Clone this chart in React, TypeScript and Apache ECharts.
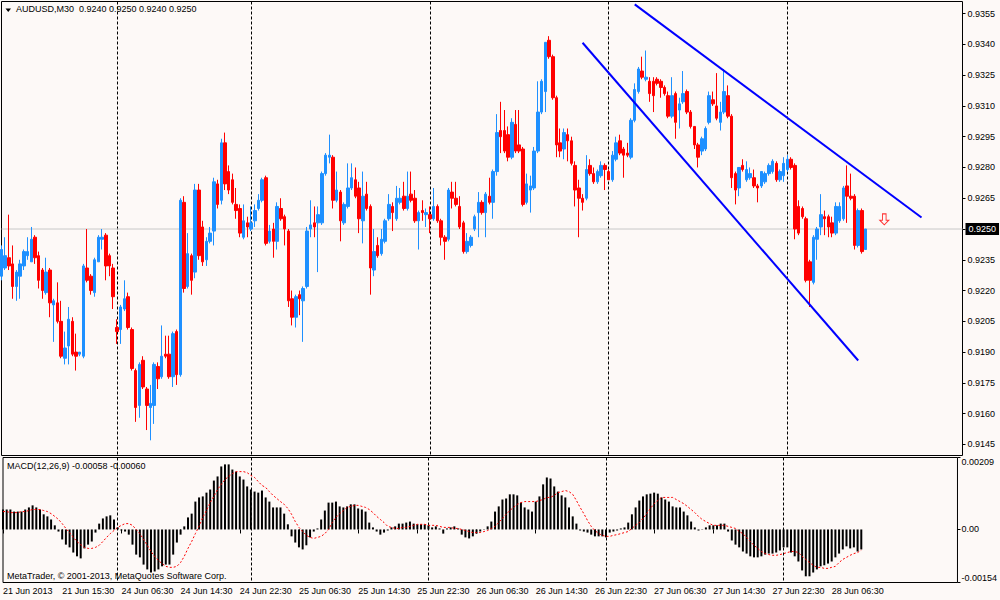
import React, { useEffect, useRef } from "react";
import * as echarts from "echarts";

// ---- axis / label data ----
const timeLabels = [
  "21 Jun 2013", "21 Jun 15:30", "24 Jun 06:30", "24 Jun 14:30", "24 Jun 22:30",
  "25 Jun 06:30", "25 Jun 14:30", "25 Jun 22:30", "26 Jun 06:30", "26 Jun 14:30",
  "26 Jun 22:30", "27 Jun 06:30", "27 Jun 14:30", "27 Jun 22:30", "28 Jun 06:30",
];
const labelStep = 16; // one time label every 16 bars (8 hours of M30)
const slotCount = 259; // bar slots across the chart, incl. empty right margin
const daySeparators = [31, 67, 115, 163, 211];
const priceTicks = [
  0.9145, 0.916, 0.9175, 0.919, 0.9205, 0.922, 0.9235, 0.925, 0.9265, 0.928,
  0.9295, 0.931, 0.9325, 0.934, 0.9355,
];
const macdTicks = [-0.00154, 0, 0.00209];
const bidPrice = 0.925;

// ---- prices, in units of 0.0001 ----
const opens = [
  9227,9231,9236,9233,9222,9227,9232,9237,9234,9246,
  9237,9230,9219,9230,9213,9214,9205,9187,9193,9205,
  9190,9189,9188,9231,9227,9219,9234,9245,9247,9237,
  9231,9202,9201,9211,9217,9201,9181,9164,9186,9172,
  9163,9164,9183,9178,9189,9189,9178,9200,9179,9263,
  9222,9237,9229,9269,9251,9235,9244,9249,9272,9264,
  9292,9278,9274,9262,9260,9246,9253,9250,9254,9260,
  9264,9275,9244,9250,9244,9260,9256,9249,9216,9207,
  9218,9215,9222,9250,9253,9253,9253,9277,9285,9285,
  9264,9268,9253,9261,9270,9274,9270,9254,9267,9261,
  9230,9242,9238,9244,9255,9261,9255,9263,9266,9260,
  9267,9265,9254,9259,9257,9257,9255,9261,9254,9246,
  9245,9268,9265,9261,9253,9239,9242,9250,9258,9263,
  9258,9266,9263,9278,9298,9298,9296,9285,9301,9291,
  9289,9263,9269,9270,9288,9307,9317,9342,9334,9314,
  9292,9289,9296,9293,9281,9270,9265,9265,9281,9277,
  9273,9276,9281,9278,9274,9284,9293,9289,9287,9285,
  9303,9317,9327,9323,9322,9322,9323,9322,9319,9315,
  9305,9316,9308,9312,9317,9307,9300,9291,9288,9289,
  9302,9313,9310,9302,9307,9315,9305,9277,9270,9281,
  9274,9275,9275,9271,9271,9273,9277,9278,9282,9274,
  9276,9279,9284,9281,9261,9260,9255,9234,9224,9245,
  9251,9256,9256,9253,9248,9254,9255,9271,9266,9266,
  9242,9259,9240,
];
const highs = [
  9242,9246,9257,9242,9230,9235,9240,9246,9251,9247,
  9239,9231,9236,9231,9216,9224,9215,9200,9212,9207,
  9199,9190,9233,9250,9228,9236,9247,9250,9248,9238,
  9233,9206,9213,9225,9219,9202,9182,9185,9188,9173,
  9174,9185,9185,9203,9198,9198,9200,9201,9265,9266,
  9248,9238,9272,9272,9254,9246,9251,9275,9274,9294,
  9297,9281,9277,9270,9262,9262,9256,9261,9262,9267,
  9275,9276,9252,9253,9263,9265,9257,9250,9220,9218,
  9220,9222,9251,9264,9261,9261,9278,9287,9296,9286,
  9278,9269,9263,9282,9282,9280,9273,9278,9273,9262,
  9250,9246,9250,9255,9267,9263,9271,9270,9273,9278,
  9278,9269,9259,9264,9260,9261,9270,9262,9255,9247,
  9270,9273,9273,9266,9254,9248,9247,9257,9268,9264,
  9268,9275,9279,9306,9312,9308,9300,9304,9308,9308,
  9290,9277,9276,9290,9322,9323,9341,9344,9335,9315,
  9299,9299,9299,9295,9283,9274,9267,9286,9284,9280,
  9279,9283,9282,9279,9288,9295,9296,9290,9292,9304,
  9321,9329,9334,9337,9324,9324,9324,9323,9320,9317,
  9324,9317,9314,9327,9318,9308,9300,9292,9295,9300,
  9317,9317,9326,9312,9328,9320,9306,9278,9280,9284,
  9283,9280,9279,9272,9278,9278,9282,9284,9283,9279,
  9285,9286,9285,9282,9264,9261,9256,9235,9247,9251,
  9267,9259,9257,9256,9263,9263,9271,9281,9277,9267,
  9260,9260,9250,
];
const lows = [
  9225,9230,9230,9216,9215,9216,9230,9235,9234,9233,
  9221,9216,9218,9207,9195,9204,9187,9184,9184,9188,
  9181,9188,9187,9224,9218,9217,9234,9240,9225,9227,
  9211,9194,9194,9210,9201,9181,9156,9158,9172,9152,
  9147,9155,9172,9177,9187,9177,9173,9174,9178,9219,
  9221,9218,9226,9235,9232,9232,9243,9242,9260,9262,
  9269,9267,9262,9255,9246,9245,9246,9249,9251,9259,
  9263,9242,9243,9236,9240,9254,9242,9212,9203,9202,
  9208,9195,9221,9246,9246,9229,9252,9276,9282,9260,
  9263,9244,9252,9260,9269,9265,9248,9243,9259,9218,
  9227,9236,9237,9243,9254,9249,9254,9262,9259,9259,
  9263,9253,9240,9254,9251,9248,9254,9253,9242,9235,
  9244,9260,9261,9250,9238,9238,9241,9249,9246,9257,
  9246,9262,9255,9276,9287,9287,9283,9284,9287,9287,
  9261,9262,9258,9269,9287,9306,9307,9333,9313,9285,
  9285,9284,9283,9281,9261,9246,9259,9264,9276,9272,
  9272,9275,9269,9274,9273,9283,9286,9275,9285,9284,
  9302,9316,9323,9322,9312,9307,9320,9314,9315,9304,
  9304,9294,9299,9311,9306,9299,9289,9280,9286,9288,
  9301,9310,9303,9298,9306,9304,9270,9262,9266,9278,
  9273,9274,9270,9263,9270,9272,9276,9277,9273,9273,
  9273,9278,9279,9245,9247,9255,9224,9212,9223,9235,
  9247,9247,9246,9246,9247,9253,9254,9253,9264,9240,
  9241,9238,9240,
];
const closes = [
  9240,9237,9232,9222,9229,9233,9239,9239,9245,9236,
  9225,9220,9229,9214,9215,9205,9188,9192,9206,9189,
  9188,9190,9232,9225,9220,9235,9246,9246,9232,9232,
  9217,9200,9212,9216,9202,9182,9163,9184,9173,9164,
  9165,9184,9177,9188,9188,9178,9199,9179,9264,9221,
  9238,9225,9269,9237,9234,9244,9248,9273,9262,9292,
  9272,9269,9263,9259,9248,9254,9251,9253,9259,9264,
  9274,9243,9249,9244,9261,9255,9250,9215,9207,9217,
  9216,9221,9249,9252,9251,9257,9277,9286,9286,9264,
  9269,9254,9262,9270,9275,9266,9255,9266,9260,9231,
  9239,9237,9245,9254,9262,9258,9265,9265,9260,9266,
  9264,9254,9258,9258,9258,9255,9261,9254,9246,9244,
  9269,9265,9262,9251,9239,9244,9246,9256,9263,9258,
  9267,9263,9278,9297,9295,9288,9285,9302,9288,9288,
  9262,9272,9271,9288,9307,9322,9341,9334,9314,9291,
  9288,9297,9293,9282,9269,9265,9263,9279,9277,9273,
  9278,9281,9279,9274,9286,9292,9287,9286,9286,9303,
  9318,9328,9324,9324,9316,9315,9321,9319,9316,9305,
  9315,9302,9311,9316,9307,9300,9291,9285,9294,9299,
  9315,9311,9304,9307,9317,9305,9275,9269,9280,9279,
  9279,9277,9271,9270,9278,9277,9281,9283,9274,9278,
  9282,9284,9280,9250,9248,9256,9225,9225,9246,9250,
  9257,9255,9251,9248,9261,9261,9270,9266,9265,9242,
  9259,9239,9250,
];

// ---- MACD(12,26,9), in units of 0.00001 ----
const macdMain = [
  58,58,58,52,52,52,58,64,70,64,
  58,44,38,29,12,-6,-29,-44,-52,-67,
  -78,-84,-55,-44,-35,-9,17,32,38,41,
  29,6,-3,-6,-15,-44,-73,-81,-102,-116,
  -125,-122,-116,-107,-102,-102,-73,-38,-15,9,
  35,46,81,93,96,107,116,142,154,183,
  189,189,174,168,154,145,125,116,110,107,
  113,93,81,64,64,64,46,15,-20,-38,
  -52,-58,-46,-23,-6,3,29,55,78,78,
  81,67,64,67,73,73,61,58,52,20,
  6,-6,-15,-9,-3,6,9,17,17,20,
  23,17,15,15,15,12,6,9,3,-12,
  3,6,9,3,-15,-23,-26,-20,-12,-6,
  1,9,23,52,67,87,90,102,102,99,
  78,64,58,52,81,96,131,151,148,125,
  110,99,93,64,38,17,-3,-6,-9,-15,
  -20,-20,-20,-23,-9,-6,-3,3,6,20,
  44,64,84,96,102,104,107,104,93,87,
  81,67,64,64,52,41,23,6,-3,1,
  6,12,12,12,17,17,-6,-32,-44,-52,
  -64,-70,-78,-81,-81,-78,-73,-70,-70,-67,
  -61,-52,-52,-67,-78,-93,-119,-136,-136,-125,
  -116,-107,-104,-99,-93,-81,-70,-58,-49,-55,
  -52,-64,-58,
];
const macdSignal = [
  52,52,49,49,49,52,52,55,58,58,
  58,55,52,46,38,29,17,3,-9,-23,
  -35,-44,-52,-55,-55,-52,-46,-35,-23,-12,
  -3,6,12,17,17,12,0,-12,-29,-46,
  -64,-78,-90,-99,-107,-110,-110,-107,-96,-78,
  -55,-35,-12,9,35,55,78,96,116,131,
  145,154,162,168,168,168,165,157,151,139,
  128,122,110,99,90,81,73,61,44,23,
  6,-6,-17,-23,-26,-23,-20,-12,0,20,
  35,46,55,64,67,70,70,67,64,58,
  49,38,29,20,9,6,3,3,6,6,
  9,12,15,15,15,12,12,12,9,6,
  6,6,3,3,0,-3,-6,-9,-9,-9,
  -6,-3,3,9,20,32,44,55,64,73,
  78,81,81,81,81,84,87,93,93,99,
  107,110,113,110,102,84,64,46,26,9,
  -3,-12,-17,-20,-20,-17,-15,-12,-9,-6,
  3,12,20,32,46,61,75,84,93,93,
  93,93,87,81,75,67,58,49,38,29,
  23,17,12,12,12,12,9,6,3,-6,
  -12,-23,-35,-46,-55,-64,-70,-73,-75,-75,
  -73,-70,-67,-64,-64,-67,-78,-87,-96,-104,
  -110,-110,-113,-113,-110,-107,-96,-87,-81,-75,
  -70,-67,-60,
];

// ---- drawn objects: [bar index, price] ----
const trendUpper = [[170, 0.93595], [247, 0.92556]];
const trendLower = [[156, 0.93408], [230, 0.91859]];
const arrowMark = [[237, 0.92547]];

const FONT = '"Liberation Sans", Arial, sans-serif';
const BG = "#fdf9f7";

export default function App() {
  const ref = useRef<HTMLDivElement>(null);

  useEffect(() => {
    if (!ref.current) return;
    const chart = echarts.init(ref.current, null, { renderer: "svg" });

    const categories = Array.from({ length: slotCount }, (_, i) =>
      i % labelStep === 0 && i / labelStep < timeLabels.length ? timeLabels[i / labelStep] : ""
    );
    const isLabel = (i: number) => i % labelStep === 0 && i / labelStep < timeLabels.length;
    const isSep = (i: number) => daySeparators.includes(i);

    const candles = opens.map((o, i) => [o / 1e4, closes[i] / 1e4, lows[i] / 1e4, highs[i] / 1e4]);
    const last = opens.length - 1;
    const f4 = (v: number) => (v / 1e4).toFixed(4);
    const headline = `AUDUSD,M30  ${f4(opens[last])} ${f4(highs[last])} ${f4(lows[last])} ${f4(closes[last])}`;
    const macdLine = `MACD(12,26,9) ${(macdMain[last] / 1e5).toFixed(5)} ${(macdSignal[last] / 1e5).toFixed(5)}`;

    const sepLine = { show: true, interval: (i: number) => isSep(i), lineStyle: { color: "#000", type: [3, 2], width: 1 } };
    const txt = { fontSize: 9, fontWeight: "normal", color: "#000", fontFamily: FONT };

    const option: any = {
      animation: false,
      backgroundColor: BG,
      textStyle: { fontFamily: FONT },
      title: [
        { text: headline, left: 16, top: 4, padding: 0, textStyle: txt },
        { text: macdLine, left: 7, top: 461, padding: 0, textStyle: txt },
        { text: "MetaTrader, © 2001-2013, MetaQuotes Software Corp.", left: 7, top: 571, padding: 0, textStyle: txt },
      ],
      graphic: [
        { type: "polygon", shape: { points: [[5.5, 8.5], [11, 8.5], [8.25, 12]] }, style: { fill: "#000" } },
      ],
      grid: [
        { left: 1.5, top: 1.5, width: 961, height: 454, show: true, borderColor: "#000", borderWidth: 1, backgroundColor: "transparent" },
        { left: 1.5, top: 457.5, width: 961, height: 125, show: true, borderColor: "#000", borderWidth: 1, backgroundColor: "transparent" },
      ],
      xAxis: [
        {
          type: "category", gridIndex: 0, data: categories, boundaryGap: false,
          axisLine: { show: false }, axisTick: { show: false }, axisLabel: { show: false },
          splitLine: sepLine,
        },
        {
          type: "category", gridIndex: 1, data: categories, boundaryGap: false,
          axisLine: { show: false },
          axisTick: { show: true, interval: (i: number) => isLabel(i), length: 4, lineStyle: { color: "#000" } },
          axisLabel: { show: true, interval: (i: number) => isLabel(i), align: "left", margin: 4, fontSize: 9, color: "#000", fontFamily: FONT },
          splitLine: sepLine,
        },
      ],
      yAxis: [
        {
          type: "value", gridIndex: 0, position: "right", min: 0.91396, max: 0.93609,
          splitLine: { show: false }, axisLine: { show: false },
          axisTick: { show: true, length: 3, customValues: priceTicks, lineStyle: { color: "#000" } },
          axisLabel: {
            customValues: priceTicks.filter((v) => v !== bidPrice),
            formatter: (v: number) => v.toFixed(4), fontSize: 9, color: "#000", margin: 5, fontFamily: FONT,
          },
        },
        {
          type: "value", gridIndex: 1, position: "right", min: macdTicks[0], max: macdTicks[2],
          splitLine: { show: false }, axisLine: { show: false },
          axisTick: { show: true, length: 3, customValues: macdTicks, lineStyle: { color: "#000" } },
          axisLabel: {
            customValues: macdTicks,
            formatter: (v: number) => (v === 0 ? "0.00" : v.toFixed(5)),
            fontSize: 9, color: "#000", margin: 4, fontFamily: FONT,
            verticalAlignMaxLabel: "top", verticalAlignMinLabel: "bottom",
          },
        },
      ],
      series: [
        {
          // bid price line across the chart (drawn behind candles) with its price box
          type: "line", xAxisIndex: 0, yAxisIndex: 0, z: 1,
          data: [[0, bidPrice], [slotCount - 1, bidPrice]], symbol: "none", silent: true,
          lineStyle: { color: "#c8c8c8", width: 1 },
          endLabel: {
            show: true, distance: 3, formatter: () => bidPrice.toFixed(4),
            backgroundColor: "#000", color: "#fff", padding: [2, 3, 1, 3], fontSize: 9, fontFamily: FONT,
          },
        },
        {
          type: "candlestick", xAxisIndex: 0, yAxisIndex: 0, data: candles, barWidth: 3, z: 2,
          itemStyle: { color: "#1e90ff", color0: "#ff0000", borderColor: "#1e90ff", borderColor0: "#ff0000", borderWidth: 1 },
        },
        {
          type: "line", xAxisIndex: 0, yAxisIndex: 0, data: trendUpper, symbol: "none", z: 3,
          lineStyle: { color: "#0000ff", width: 2 },
        },
        {
          type: "line", xAxisIndex: 0, yAxisIndex: 0, data: trendLower, symbol: "none", z: 3,
          lineStyle: { color: "#0000ff", width: 2 },
        },
        {
          type: "scatter", xAxisIndex: 0, yAxisIndex: 0, data: arrowMark, z: 3,
          symbol: "path://M3,0L7,0L7,7L10,7L5,12L0,7L3,7Z", symbolSize: [9, 11],
          itemStyle: { color: BG, borderColor: "#ff0000", borderWidth: 1 },
        },
        {
          type: "bar", xAxisIndex: 1, yAxisIndex: 1, data: macdMain.map((v) => v / 1e5), barWidth: 2,
          itemStyle: { color: "#000" },
        },
        {
          type: "line", xAxisIndex: 1, yAxisIndex: 1, data: macdSignal.map((v) => v / 1e5), symbol: "none",
          lineStyle: { color: "#ff0000", width: 1, type: [2, 2] },
        },
      ],
    };

    chart.setOption(option);
    return () => chart.dispose();
  }, []);

  return (
    <div
      ref={ref}
      style={{ position: "fixed", left: 0, top: 0, width: 1000, height: 600, background: BG }}
    />
  );
}
